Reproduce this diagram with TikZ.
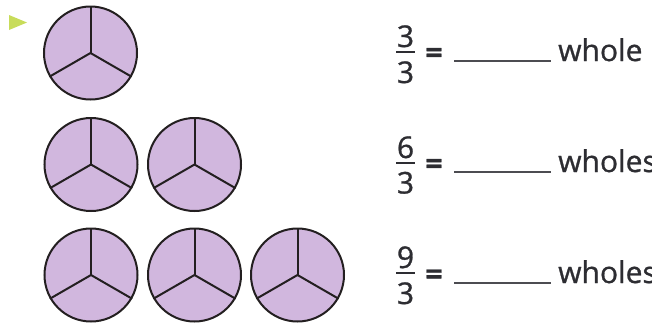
\documentclass[tikz,border=0pt]{standalone}
\usepackage{fontspec}
\setmainfont{Open Sans}[FakeBold=0.9]
\definecolor{pief}{RGB}{209,183,222}
\definecolor{piel}{RGB}{35,31,32}
\definecolor{txt}{RGB}{45,45,50}
\definecolor{markc}{RGB}{200,220,90}
\begin{document}
\begin{tikzpicture}[x=1pt,y=-1pt,
  pie/.style={circle,draw=piel,fill=pief,line width=2pt,minimum size=93pt,inner sep=0pt},
  spoke/.style={draw=piel,line width=2pt},
  lbl/.style={inner sep=0pt,anchor=base,text=txt,font=\fontsize{30}{36}\selectfont},
  eqs/.style={lbl,font=\fontsize{30}{36}\selectfont\bfseries},
  bar/.style={draw=txt,line width=2pt},
  blank/.style={draw=txt!85,line width=2pt}]
\useasboundingbox (0,0) rectangle (652,322);
\fill[fill=markc] (9,15) -- (27,22.5) -- (9,30) -- cycle;
\newcommand\piecircle[3]{%
  \node[pie] (#1) at (#2,#3) {};
  \draw[spoke] (#1.center) -- (#1.north);
  \draw[spoke] (#1.center) -- (#1.210);
  \draw[spoke] (#1.center) -- (#1.330);}
\piecircle{a1}{90.5}{53}
\piecircle{b1}{91}{164.5}
\piecircle{b2}{194.5}{164.5}
\piecircle{c1}{91}{275}
\piecircle{c2}{194.5}{275}
\piecircle{c3}{297.5}{275}
% row 1
\node[lbl] (n1) at (405.5,47) {3};
\node[lbl] (d1) at (405.5,83) {3};
\draw[bar] (396,52) -- (415,52);
\node[eqs] (e1) at (434,63) {=};
\coordinate (u1s) at (454,61); \coordinate (u1e) at (551,61);
\draw[blank] (u1s) -- (u1e);
\node[lbl,anchor=base west] (w1) at (558,61) {whole};
% row 2
\node[lbl] (n2) at (405.5,158) {6};
\node[lbl] (d2) at (405.5,193.5) {3};
\draw[bar] (396,162.5) -- (415,162.5);
\node[eqs] (e2) at (434,174) {=};
\coordinate (u2s) at (454,172); \coordinate (u2e) at (551,172);
\draw[blank] (u2s) -- (u2e);
\node[lbl,anchor=base west] (w2) at (558,172) {wholes};
% row 3
\node[lbl] (n3) at (405.5,268) {9};
\node[lbl] (d3) at (405.5,304) {3};
\draw[bar] (396,273) -- (415,273);
\node[eqs] (e3) at (434,284.5) {=};
\coordinate (u3s) at (454,283); \coordinate (u3e) at (551,283);
\draw[blank] (u3s) -- (u3e);
\node[lbl,anchor=base west] (w3) at (558,283) {wholes};
\end{tikzpicture}
\end{document}
